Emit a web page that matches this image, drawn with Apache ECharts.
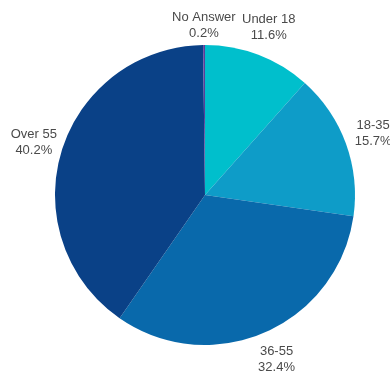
<!DOCTYPE html>
<html>
<head>
<meta charset="utf-8">
<script src="https://cdn.jsdelivr.net/npm/echarts@6/dist/echarts.min.js"></script>
<style>
html, body { margin: 0; padding: 0; background: #fff; }
#main { width: 390px; height: 373px; }
</style>
</head>
<body>
<div id="main"></div>
<script>
// 类别与数值
var categories = ['Under 18', '18-35', '36-55', 'Over 55', 'No Answer'];
var percents = [11.6, 15.7, 32.4, 40.2, 0.2];
var colors = ['#00BFCC', '#0E9CC8', '#0969AB', '#0A4187', '#5A3E9A'];

var cx = 205, cy = 195, r = 150, labelDist = 179;

// 每个扇区中线角度(从顶部顺时针)
var total = percents.reduce(function(a, b) { return a + b; }, 0);
var midAngles = [];
var acc = 0;
for (var i = 0; i < percents.length; i++) {
	midAngles.push((acc + percents[i] / 2) / total * 2 * Math.PI);
	acc += percents[i];
}

var chart = echarts.init(document.getElementById('main'));
chart.setOption({
	animation: false,
	series: [{
		type: 'pie',
		center: [cx, cy],
		radius: r,
		startAngle: 90,
		clockwise: true,
		avoidLabelOverlap: false,
		data: categories.map(function(name, i) {
			return { name: name, value: percents[i], itemStyle: { color: colors[i] } };
		}),
		itemStyle: { borderWidth: 0 },
		label: {
			show: true,
			position: 'outside',
			formatter: function(p) { return p.name + '\n' + p.value.toFixed(1) + '%'; },
			color: '#4a4a4a',
			fontSize: 13,
			lineHeight: 16,
			fontFamily: 'Liberation Sans, Arial, sans-serif',
			align: 'center'
		},
		labelLine: { show: false },
		labelLayout: function(params) {
			var a = midAngles[params.dataIndex];
			var y = cy - labelDist * Math.cos(a);
			return {
				x: cx + labelDist * Math.sin(a),
				y: Math.max(y, 25),
				align: 'center',
				verticalAlign: 'middle'
			};
		}
	}]
});
</script>
</body>
</html>
